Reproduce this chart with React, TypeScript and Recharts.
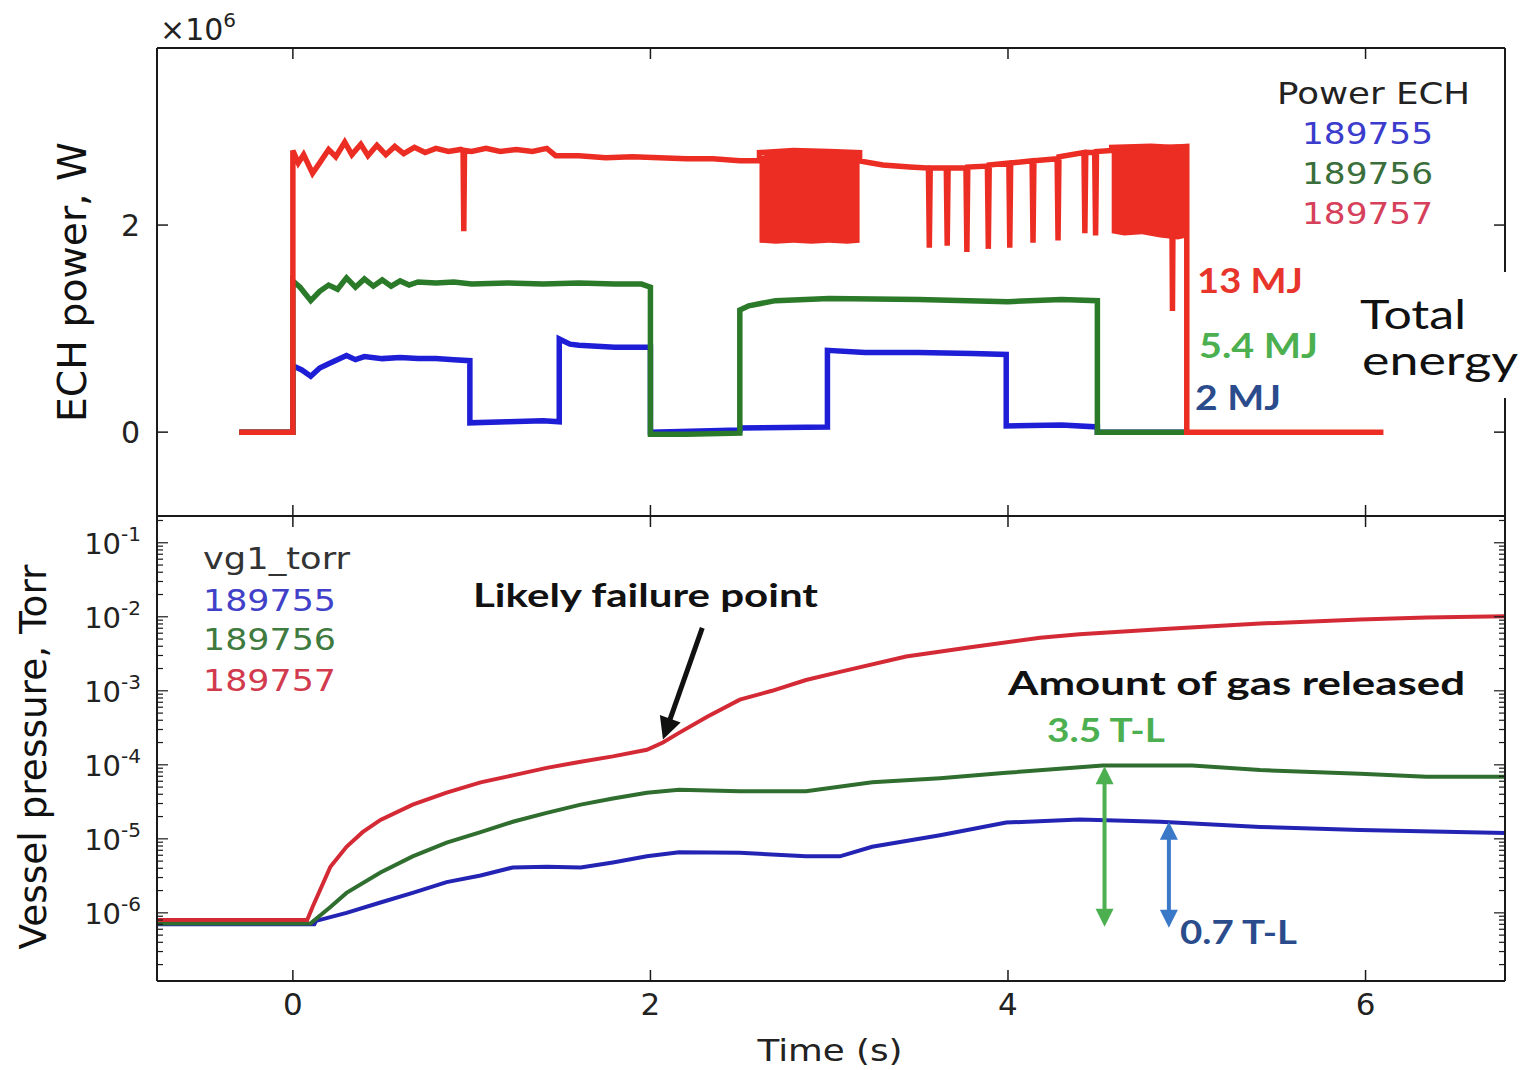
import React from 'react';
import { ComposedChart, Line, Area, XAxis, YAxis, ReferenceLine } from 'recharts';

const TICK_FONT = "'DejaVu Sans', sans-serif";
const NOTE_FONT = "Lato, 'Open Sans', sans-serif";

// shared time axis (s)
const TIME_DOMAIN = [-0.76, 6.78];
const TIME_TICKS = [0, 2, 4, 6];

// top panel: ECH power in units of 1e6 W
const POWER_DOMAIN = [-0.81, 3.71];
const POWER_TICKS = [0, 2];

const ech755T = [-0.3, 0, 0, 0.05, 0.1, 0.15, 0.2, 0.3, 0.35, 0.4, 0.5, 0.6, 0.7, 0.8, 0.9, 0.99, 0.99, 1.2, 1.4, 1.49, 1.49, 1.55, 1.6, 1.8, 2.0, 2.0, 2.5, 2.5, 2.99, 2.99, 3.2, 3.5, 3.8, 3.99, 3.99, 4.3, 4.5, 4.5, 5.0];
const ech755W = [0, 0, 0.64, 0.6, 0.54, 0.62, 0.66, 0.74, 0.7, 0.73, 0.71, 0.72, 0.71, 0.71, 0.7, 0.69, 0.09, 0.1, 0.11, 0.1, 0.9, 0.85, 0.84, 0.82, 0.82, 0.0, 0.02, 0.04, 0.05, 0.79, 0.77, 0.77, 0.76, 0.75, 0.06, 0.07, 0.05, 0.0, 0.0];

const ech756T = [-0.3, 0, 0, 0.04, 0.1, 0.15, 0.2, 0.25, 0.3, 0.35, 0.4, 0.45, 0.5, 0.55, 0.6, 0.65, 0.7, 0.8, 0.9, 1.0, 1.2, 1.4, 1.6, 1.8, 1.95, 2.0, 2.0, 2.2, 2.5, 2.5, 2.55, 2.7, 3.0, 3.5, 4.0, 4.3, 4.5, 4.5, 5.0];
const ech756W = [0, 0, 1.46, 1.4, 1.27, 1.36, 1.42, 1.38, 1.49, 1.4, 1.48, 1.41, 1.47, 1.41, 1.46, 1.42, 1.45, 1.44, 1.45, 1.43, 1.44, 1.43, 1.44, 1.43, 1.43, 1.4, -0.02, -0.02, -0.01, 1.18, 1.22, 1.27, 1.29, 1.28, 1.26, 1.28, 1.27, 0.0, 0.0];

const ech757T = [-0.3, 0, 0, 0.03, 0.06, 0.11, 0.15, 0.2, 0.24, 0.29, 0.33, 0.38, 0.42, 0.47, 0.52, 0.57, 0.62, 0.68, 0.74, 0.8, 0.87, 0.94, 0.952, 0.956, 0.96, 1.0, 1.08, 1.16, 1.25, 1.34, 1.42, 1.47, 1.6, 1.75, 1.9, 2.05, 2.2, 2.35, 2.5, 2.61, 2.61, 2.8, 3.0, 3.17, 3.17, 3.3, 3.45, 3.555, 3.56, 3.565, 3.655, 3.66, 3.665, 3.765, 3.77, 3.775, 3.885, 3.89, 3.895, 4.005, 4.01, 4.015, 4.135, 4.14, 4.145, 4.275, 4.28, 4.285, 4.425, 4.43, 4.435, 4.485, 4.49, 4.495, 4.58, 4.58, 4.8, 4.915, 4.92, 4.925, 5.0, 5.0, 6.1];
const ech757W = [0, 0, 2.72, 2.6, 2.68, 2.5, 2.6, 2.73, 2.66, 2.8, 2.68, 2.78, 2.67, 2.77, 2.68, 2.76, 2.69, 2.75, 2.7, 2.74, 2.71, 2.73, 2.72, 1.94, 2.72, 2.71, 2.74, 2.71, 2.73, 2.71, 2.74, 2.67, 2.67, 2.65, 2.66, 2.65, 2.64, 2.64, 2.62, 2.62, 2.7, 2.72, 2.71, 2.7, 2.62, 2.58, 2.56, 2.55, 1.78, 2.55, 2.55, 1.8, 2.55, 2.55, 1.74, 2.56, 2.57, 1.77, 2.58, 2.6, 1.78, 2.6, 2.62, 1.83, 2.62, 2.64, 1.85, 2.66, 2.7, 1.92, 2.7, 2.7, 1.9, 2.71, 2.72, 2.75, 2.76, 2.75, 1.17, 2.75, 2.76, 0, 0];

// fast-modulated stretches of 189757, drawn as min/max envelopes
const mod1T = [2.61, 2.7, 2.8, 2.9, 3.0, 3.1, 3.17];
const mod1Lo = [1.83, 1.82, 1.83, 1.82, 1.83, 1.82, 1.83];
const mod1Hi = [2.66, 2.71, 2.72, 2.72, 2.71, 2.7, 2.68];
const mod2T = [4.58, 4.65, 4.75, 4.85, 4.95, 5.0];
const mod2Lo = [1.92, 1.9, 1.91, 1.88, 1.86, 1.88];
const mod2Hi = [2.74, 2.76, 2.75, 2.77, 2.78, 2.77];

// bottom panel: vessel pressure (Torr)
const PRESSURE_DOMAIN = [1.2e-7, 0.23];
const PRESSURE_DECADES = [1e-1, 1e-2, 1e-3, 1e-4, 1e-5, 1e-6];

const vg755T = [-0.76, 0.12, 0.13, 0.3, 0.49, 0.67, 0.86, 1.05, 1.23, 1.42, 1.61, 1.79, 1.98, 2.16, 2.5, 2.87, 3.06, 3.24, 3.62, 3.99, 4.4, 4.85, 5.41, 5.97, 6.78];
const vg755P = [7.0e-7, 7.0e-7, 7.8e-7, 1.0e-6, 1.38e-6, 1.86e-6, 2.6e-6, 3.2e-6, 4.1e-6, 4.2e-6, 4.1e-6, 4.8e-6, 5.8e-6, 6.6e-6, 6.5e-6, 5.8e-6, 5.8e-6, 7.8e-6, 1.12e-5, 1.66e-5, 1.82e-5, 1.7e-5, 1.45e-5, 1.32e-5, 1.2e-5];

const vg756T = [-0.76, 0.1, 0.11, 0.21, 0.3, 0.49, 0.67, 0.86, 1.05, 1.23, 1.42, 1.61, 1.79, 1.98, 2.16, 2.5, 2.87, 3.24, 3.62, 3.99, 4.4, 4.53, 5.03, 5.41, 5.97, 6.34, 6.78];
const vg756P = [7.2e-7, 7.2e-7, 7.6e-7, 1.2e-6, 1.86e-6, 3.5e-6, 5.8e-6, 8.9e-6, 1.23e-5, 1.7e-5, 2.24e-5, 2.9e-5, 3.5e-5, 4.2e-5, 4.6e-5, 4.4e-5, 4.4e-5, 5.8e-5, 6.6e-5, 7.8e-5, 9.3e-5, 9.8e-5, 9.8e-5, 8.5e-5, 7.6e-5, 6.9e-5, 6.9e-5];

const vg757T = [-0.76, 0.08, 0.11, 0.21, 0.3, 0.39, 0.49, 0.67, 0.86, 1.05, 1.23, 1.42, 1.61, 1.79, 1.98, 2.07, 2.16, 2.32, 2.5, 2.68, 2.87, 3.06, 3.43, 3.8, 4.18, 4.4, 4.85, 5.41, 5.97, 6.34, 6.78];
const vg757P = [8.0e-7, 8.0e-7, 1.2e-6, 4.2e-6, 7.8e-6, 1.23e-5, 1.8e-5, 2.9e-5, 4.2e-5, 5.8e-5, 7.2e-5, 9.1e-5, 1.1e-4, 1.3e-4, 1.6e-4, 2.0e-4, 2.7e-4, 4.5e-4, 7.6e-4, 1.0e-3, 1.4e-3, 1.8e-3, 2.9e-3, 3.9e-3, 5.2e-3, 5.8e-3, 6.8e-3, 8.1e-3, 9.2e-3, 9.8e-3, 1.02e-2];

// annotation arrows [t, p] -> [t, p]
const failureArrow = [[2.29, 7.1e-3], [2.07, 2.2e-4]];
const gas756Arrow = [[4.54, 9.6e-5], [4.54, 6.5e-7]];
const gas755Arrow = [[4.9, 1.7e-5], [4.9, 6.3e-7]];

const series = (t: number[], v: number[]) => t.map((x, i) => ({ t: x, v: v[i] }));
const envelope = (t: number[], lo: number[], hi: number[]) => t.map((x, i) => ({ t: x, v: [lo[i], hi[i]] }));

const pressureTicks = [1e-7, ...PRESSURE_DECADES]
  .flatMap((d) => [1, 2, 3, 4, 5, 6, 7, 8, 9].map((m) => m * d))
  .filter((v) => v >= PRESSURE_DOMAIN[0] && v <= PRESSURE_DOMAIN[1]);

const AX = '#1a1a1a';

const xTick = (dir: number, label: boolean) => (props: any) => {
  const { x, y, payload } = props;
  return (
    <g>
      <line x1={x} y1={y} x2={x} y2={y + dir * 11} stroke={AX} strokeWidth={1.5} />
      {label && (
        <text x={x} y={y + 34} textAnchor="middle" fontFamily={TICK_FONT} fontSize={31} fill="#222">
          {payload.value}
        </text>
      )}
    </g>
  );
};

const powerTick = (dir: number, label: boolean) => (props: any) => {
  const { x, y, payload } = props;
  return (
    <g>
      <line x1={x} y1={y} x2={x + dir * 11} y2={y} stroke={AX} strokeWidth={1.5} />
      {label && (
        <text x={x - 17} y={y + 11} textAnchor="end" fontFamily={TICK_FONT} fontSize={30} fill="#222">
          {payload.value}
        </text>
      )}
    </g>
  );
};

const pressureTick = (dir: number, label: boolean) => (props: any) => {
  const { x, y, payload } = props;
  const major = PRESSURE_DECADES.includes(payload.value);
  const exp = Math.round(Math.log10(payload.value));
  return (
    <g>
      <line x1={x} y1={y} x2={x + dir * (major ? 11 : 6)} y2={y} stroke={AX} strokeWidth={1.2} />
      {label && major && (
        <text x={x - 16} y={y + 11} textAnchor="end" fontFamily={TICK_FONT} fontSize={29} fill="#222">
          10
          <tspan dy={-13} fontSize={20}>{`-${-exp}`}</tspan>
        </text>
      )}
    </g>
  );
};

const arrowShape = (color: string, width: number, head: number, both: boolean) => (p: any) => {
  const { x1, y1, x2, y2 } = p;
  const a = Math.atan2(y2 - y1, x2 - x1);
  const ca = Math.cos(a);
  const sa = Math.sin(a);
  const tri = (x: number, y: number, s: number) => {
    const bx = x - s * head * ca;
    const by = y - s * head * sa;
    const w = head * 0.5;
    return `${x},${y} ${bx - sa * w},${by + ca * w} ${bx + sa * w},${by - ca * w}`;
  };
  const sx = both ? x1 + head * 0.8 * ca : x1;
  const sy = both ? y1 + head * 0.8 * sa : y1;
  return (
    <g>
      <line x1={sx} y1={sy} x2={x2 - head * 0.8 * ca} y2={y2 - head * 0.8 * sa} stroke={color} strokeWidth={width} />
      <polygon points={tri(x2, y2, 1)} fill={color} />
      {both && <polygon points={tri(x1, y1, -1)} fill={color} />}
    </g>
  );
};

const seg = (s: number[][]) => [
  { x: s[0][0], y: s[0][1] },
  { x: s[1][0], y: s[1][1] },
];

function Notes() {
  const t = (x: number, y: number, s: string, size: number, color: string, len?: number, bold?: boolean, font = NOTE_FONT) => (
    <text
      x={x}
      y={y}
      fontFamily={font}
      fontSize={size}
      fontWeight={bold ? 700 : 400}
      fill={color}
      textLength={len}
      lengthAdjust={len ? 'spacingAndGlyphs' : undefined}
    >
      {s}
    </text>
  );
  return (
    <svg width={1526} height={1070} style={{ position: 'absolute', left: 0, top: 0, pointerEvents: 'none' }}>
      <text x={160} y={40} fontFamily={TICK_FONT} fontSize={30} fill="#222">
        ×10<tspan dy={-13} fontSize={20}>6</tspan>
      </text>
      {t(1277, 104, 'Power ECH', 31, '#222', 193, false, TICK_FONT)}
      {t(1302, 144, '189755', 31, '#3b3bcc', 131, false, TICK_FONT)}
      {t(1302, 184, '189756', 31, '#3a6e3a', 131, false, TICK_FONT)}
      {t(1302, 224, '189757', 31, '#d6405a', 131, false, TICK_FONT)}
      <rect x={1352} y={272} width={174} height={126} fill="#fff" />
      {t(1197, 293, '13 MJ', 34, '#e8352b', 106, true)}
      {t(1199, 358, '5.4 MJ', 34, '#4caf50', 119, true)}
      {t(1195, 410, '2 MJ', 34, '#2b4c8c', 86, true)}
      {t(1360, 329, 'Total', 41, '#111', 106)}
      {t(1362, 375, 'energy', 41, '#111', 156)}
      {t(203, 569, 'vg1_torr', 31, '#333', 147, false, TICK_FONT)}
      {t(203, 611, '189755', 31, '#4040c8', 133, false, TICK_FONT)}
      {t(203, 650, '189756', 31, '#3f7a3f', 133, false, TICK_FONT)}
      {t(203, 691, '189757', 31, '#d23a4e', 133, false, TICK_FONT)}
      {t(473, 607, 'Likely failure point', 32, '#111', 345, true)}
      {t(1008, 695, 'Amount of gas released', 33, '#111', 457, true)}
      {t(1047, 742, '3.5 T-L', 32, '#4caf50', 118, true)}
      {t(1180, 944, '0.7 T-L', 32, '#2b4c8c', 117, true)}
      <text x={830} y={1061} textAnchor="middle" fontFamily={TICK_FONT} fontSize={31} fill="#222" textLength={145} lengthAdjust="spacingAndGlyphs">
        Time (s)
      </text>
      <text transform="translate(72,282) rotate(-90)" textAnchor="middle" dominantBaseline="central" fontFamily={TICK_FONT} fontSize={39} fill="#111" textLength={280} lengthAdjust="spacingAndGlyphs">
        ECH power, W
      </text>
      <text transform="translate(33,757) rotate(-90)" textAnchor="middle" dominantBaseline="central" fontFamily={TICK_FONT} fontSize={37} fill="#111" textLength={385} lengthAdjust="spacingAndGlyphs">
        Vessel pressure, Torr
      </text>
    </svg>
  );
}

export default function App() {
  const axisLine = { stroke: AX, strokeWidth: 2 };
  const xProps = { type: 'number' as const, dataKey: 't', domain: TIME_DOMAIN, ticks: TIME_TICKS, allowDataOverflow: true, height: 1, tickSize: 0, tickMargin: 0, interval: 0 as const, axisLine, tickLine: false };
  return (
    <div style={{ position: 'absolute', left: 0, top: 0, width: 1526, height: 1070, background: '#fff', overflow: 'hidden' }}>
      <div style={{ position: 'absolute', left: 0, top: 0 }}>
        <ComposedChart width={1526} height={517} margin={{ top: 47, right: 20, bottom: 0, left: 156 }}>
          <XAxis xAxisId={0} {...xProps} tick={xTick(-1, false)} />
          <XAxis xAxisId="top" orientation="top" {...xProps} tick={xTick(1, false)} />
          <YAxis yAxisId={0} type="number" domain={POWER_DOMAIN} ticks={POWER_TICKS} allowDataOverflow width={1} tickSize={0} tickMargin={0} interval={0} axisLine={axisLine} tickLine={false} tick={powerTick(1, true)} />
          <YAxis yAxisId="r" orientation="right" type="number" domain={POWER_DOMAIN} ticks={POWER_TICKS} allowDataOverflow width={1} tickSize={0} tickMargin={0} interval={0} axisLine={axisLine} tickLine={false} tick={powerTick(-1, false)} />
          <Area data={envelope(mod1T, mod1Lo, mod1Hi)} dataKey="v" type="linear" stroke="none" fill="#ec2d23" fillOpacity={1} isAnimationActive={false} />
          <Area data={envelope(mod2T, mod2Lo, mod2Hi)} dataKey="v" type="linear" stroke="none" fill="#ec2d23" fillOpacity={1} isAnimationActive={false} />
          <Line data={series(ech755T, ech755W)} dataKey="v" type="linear" stroke="#1e1ed6" strokeWidth={5.5} dot={false} isAnimationActive={false} />
          <Line data={series(ech756T, ech756W)} dataKey="v" type="linear" stroke="#2a7a2a" strokeWidth={5.5} dot={false} isAnimationActive={false} />
          <Line data={series(ech757T, ech757W)} dataKey="v" type="linear" stroke="#ec2d23" strokeWidth={5.5} dot={false} isAnimationActive={false} />
        </ComposedChart>
      </div>
      <div style={{ position: 'absolute', left: 0, top: 515 }}>
        <ComposedChart width={1526} height={555} margin={{ top: 0, right: 20, bottom: 88, left: 156 }}>
          <XAxis xAxisId={0} {...xProps} tick={xTick(-1, true)} />
          <XAxis xAxisId="top" orientation="top" {...xProps} tick={xTick(1, false)} />
          <YAxis yAxisId={0} type="number" scale="log" domain={PRESSURE_DOMAIN} ticks={pressureTicks} allowDataOverflow width={1} tickSize={0} tickMargin={0} interval={0} axisLine={axisLine} tickLine={false} tick={pressureTick(1, true)} />
          <YAxis yAxisId="r" orientation="right" type="number" scale="log" domain={PRESSURE_DOMAIN} ticks={pressureTicks} allowDataOverflow width={1} tickSize={0} tickMargin={0} interval={0} axisLine={axisLine} tickLine={false} tick={pressureTick(-1, false)} />
          <Line data={series(vg755T, vg755P)} dataKey="v" type="linear" stroke="#2424b4" strokeWidth={4} dot={false} isAnimationActive={false} />
          <Line data={series(vg756T, vg756P)} dataKey="v" type="linear" stroke="#2f6e2f" strokeWidth={4} dot={false} isAnimationActive={false} />
          <Line data={series(vg757T, vg757P)} dataKey="v" type="linear" stroke="#d42a36" strokeWidth={4} dot={false} isAnimationActive={false} />
          <ReferenceLine segment={seg(failureArrow)} ifOverflow="visible" shape={arrowShape('#111', 5, 22, false)} />
          <ReferenceLine segment={seg(gas756Arrow)} ifOverflow="visible" shape={arrowShape('#4caf50', 4, 18, true)} />
          <ReferenceLine segment={seg(gas755Arrow)} ifOverflow="visible" shape={arrowShape('#3a78c8', 4, 18, true)} />
        </ComposedChart>
      </div>
      <Notes />
    </div>
  );
}
